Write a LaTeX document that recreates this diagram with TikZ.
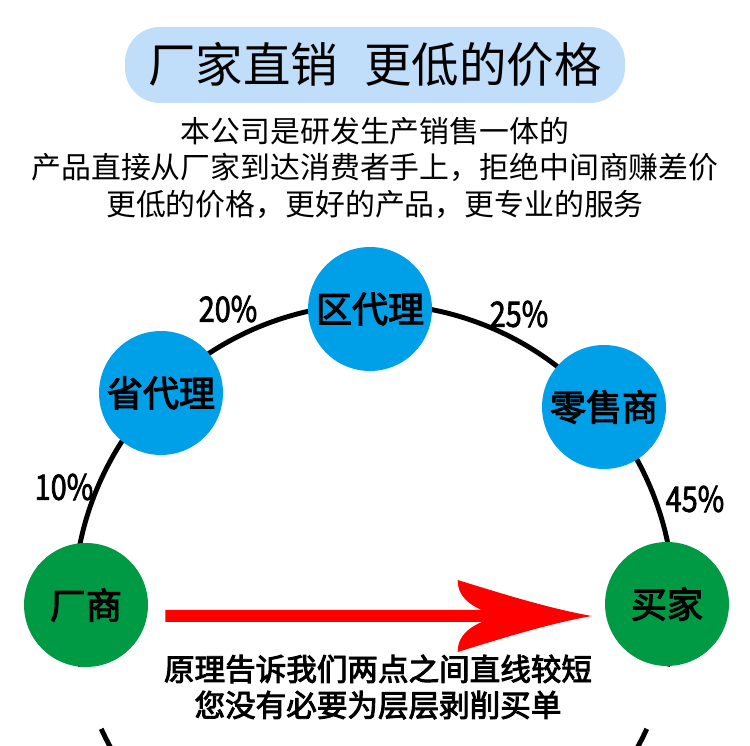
\documentclass[tikz,border=0pt]{standalone}
\usepackage{fontspec}
\setmainfont{Noto Sans CJK SC}
\newfontfamily\heavy{Noto Sans CJK SC}[FakeBold=3]
\newfontfamily\narrow{Noto Sans CJK SC}[FakeStretch=0.82,FakeBold=2]
\usetikzlibrary{calc}
\definecolor{titlebg}{RGB}{192,222,250}
\definecolor{agent}{RGB}{0,160,233}
\definecolor{endpt}{RGB}{0,153,68}
\definecolor{arrowred}{RGB}{255,0,0}

\begin{document}
\begin{tikzpicture}[x=0.02cm,y=0.02cm,
  stop/.style={circle,minimum size=2.48cm,inner sep=0pt,font=\fontsize{20.5}{22}\selectfont\heavy},
  pct/.style={inner sep=0pt,font=\fontsize{20}{22}\selectfont\narrow},
  ring/.style={line width=2.8pt}]
 \useasboundingbox[fill=white] (0,0) rectangle (750,746);
 \node[fill=titlebg,rounded corners=0.7cm,minimum width=10cm,minimum height=1.52cm,
   font=\fontsize{27}{30}\selectfont] (title) at (375,681) {厂家直销\hspace{0.55em}更低的价格};
 \node[align=center,font=\fontsize{17}{20.8}\selectfont] (intro) at (375,578)
   {本公司是研发生产销售一体的\\产品直接从厂家到达消费者手上，拒绝中间商赚差价\\更低的价格，更好的产品，更专业的服务};
 % big ring behind the stations
 \coordinate (o) at (374,142);
 \draw[ring] (o) ++(192:300) arc[start angle=192,end angle=-12,radius=300];
 \foreach \a/\d in {204.6/5,-24.6/-5}
   \draw[ring] (o) ++(\a:300) arc[start angle=\a,delta angle=\d,radius=300];
 \node[stop,fill=agent] (sheng) at (161,353) {省代理};
 \node[stop,fill=agent] (qu) at (370,437) {区代理};
 \node[stop,fill=agent] (ling) at (604,339) {零售商};
 \node[stop,fill=endpt] (chang) at (86,141) {厂商};
 \node[stop,fill=endpt] (mai) at (667,142) {买家};
 \node[pct] (p10) at (64,259) {10\%};
 \node[pct] (p20) at (228,437) {20\%};
 \node[pct] (p25) at (519,432) {25\%};
 \node[pct] (p45) at (695,247) {45\%};
 % direct route
 \coordinate (tail) at ($(chang.east)+(17,-11)$);
 \coordinate (tip) at ($(mai.west)+(-13,-12)$);
 \fill[arrowred] ($(tail)+(0,6)$) -- ($(tip)+(-110,6)$)
   .. controls ($(tip)+(-128,14)$) and ($(tip)+(-134,24)$) .. ($(tip)+(-134,36)$)
   .. controls ($(tip)+(-95,24)$) and ($(tip)+(-45,8)$) .. (tip)
   .. controls ($(tip)+(-45,-8)$) and ($(tip)+(-95,-24)$) .. ($(tip)+(-134,-36)$)
   .. controls ($(tip)+(-134,-24)$) and ($(tip)+(-128,-14)$) .. ($(tip)+(-110,-6)$)
   -- ($(tail)+(0,-6)$) -- cycle;
 \node[align=center,font=\fontsize{17.4}{20.5}\selectfont\heavy] (note) at (378,59)
   {原理告诉我们两点之间直线较短\\您没有必要为层层剥削买单};
\end{tikzpicture}
\end{document}
